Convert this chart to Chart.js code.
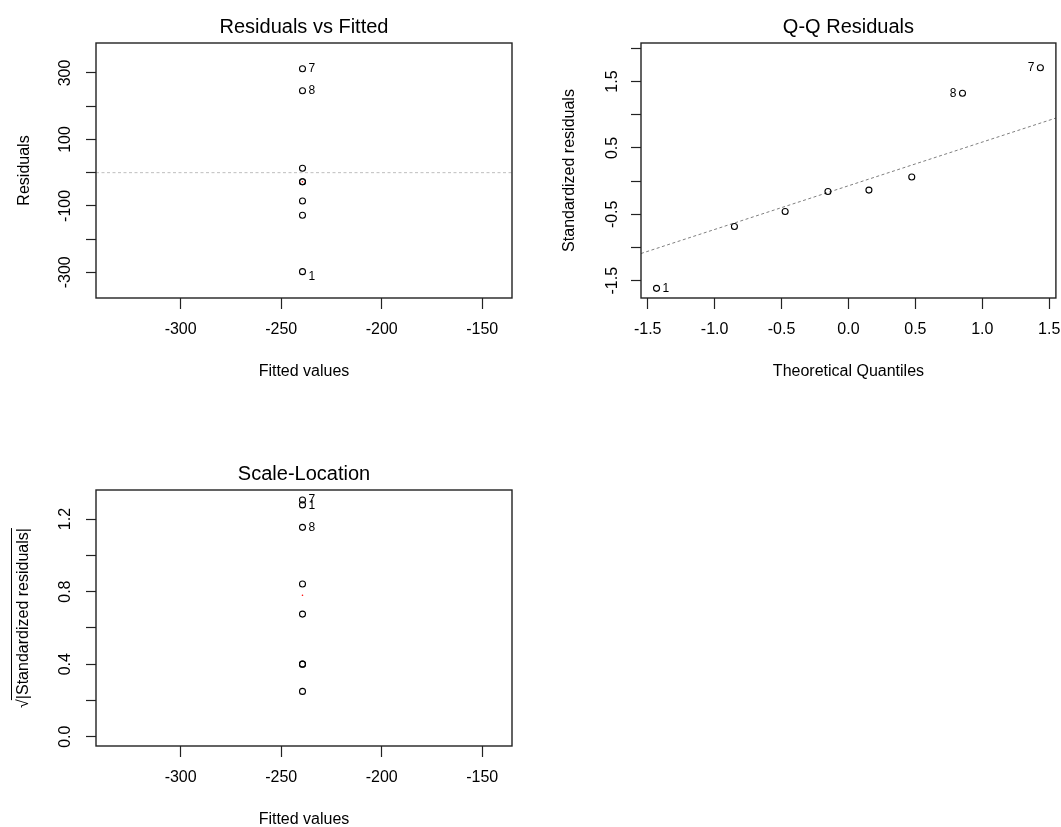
<!DOCTYPE html>
<html>
<head>
<meta charset="utf-8">
<title>lm diagnostics</title>
<script src="https://cdn.jsdelivr.net/npm/chart.js@4.4.1/dist/chart.umd.min.js"></script>
<style>
    html, body { margin: 0; padding: 0; background: #fff; }
    #page { position: relative; width: 1061px; height: 827px; overflow: hidden; }
    canvas { position: absolute; }
</style>
</head>
<body>
<div id="page">
    <canvas id="rvfChart" width="530" height="400" style="left:0;top:0"></canvas>
    <canvas id="qqChart" width="516" height="400" style="left:545px;top:0"></canvas>
    <canvas id="slChart" width="530" height="380" style="left:0;top:447px"></canvas>
</div>
<script>
// --- data (observation order 1..8) ---
const fittedValues = [-239.4, -239.4, -239.4, -239.4, -239.4, -239.4, -239.4, -239.4];
const residuals = [-298, -128.4, -85.3, -27.2, -27.2, 13.1, 313, 246.7];
const residualIds = ['1', '', '', '', '', '', '7', '8'];
const residualSmooth = [-27.2];

const fittedRange = [-342.1, -135.2];
const fittedTicks = [-300, -250, -200, -150];
const fittedTickLabels = ['-300', '-250', '-200', '-150'];

const residualRange = [-377.3, 390.3];
const residualTicks = [-300, -200, -100, 0, 100, 200, 300];
const residualTickLabels = ['-300', '', '-100', '', '100', '', '300'];

// Q-Q (sorted by theoretical quantile)
const theoreticalQuantiles = [-1.434, -0.852, -0.473, -0.153, 0.153, 0.473, 0.852, 1.434];
const stdResidualsSorted = [-1.615, -0.683, -0.457, -0.156, -0.135, 0.061, 1.324, 1.707];
const qqIds = ['1', '', '', '', '', '', '8', '7'];
const qqLineX = [-1.55, 1.55];
const qqLineY = [-1.09, 0.95];

const quantileRange = [-1.55, 1.55];
const quantileTicks = [-1.5, -1.0, -0.5, 0, 0.5, 1.0, 1.5];
const quantileTickLabels = ['-1.5', '-1.0', '-0.5', '0.0', '0.5', '1.0', '1.5'];
const stdResRange = [-1.76, 2.08];
const stdResTicks = [-1.5, -1.0, -0.5, 0, 0.5, 1.0, 1.5, 2.0];
const stdResTickLabels = ['-1.5', '', '-0.5', '', '0.5', '', '1.5', ''];

// Scale-Location
const sqrtAbsStdRes = [1.278, 0.842, 0.676, 0.40, 0.40, 0.25, 1.305, 1.154];
const sqrtIds = ['1', '', '', '', '', '', '7', '8'];
const sqrtSmooth = [0.78];
const sqrtRange = [-0.051, 1.36];
const sqrtTicks = [0, 0.2, 0.4, 0.6, 0.8, 1.0, 1.2];
const sqrtTickLabels = ['0.0', '', '0.4', '', '0.8', '', '1.2'];

// --- drawing helpers ---
const FONT = '"Liberation Sans", Arial, sans-serif';
const INK = '#000';
Chart.defaults.font.family = FONT;

const framePlugin = {
    id: 'frame',
    afterDatasetsDraw(chart) {
        const { ctx, chartArea: a } = chart;
        ctx.save();
        ctx.strokeStyle = '#222';
        ctx.lineWidth = 1.4;
        ctx.strokeRect(a.left, a.top, a.right - a.left, a.bottom - a.top);
        ctx.restore();
    }
};

function idLabelPlugin(ids, place) {
    return {
        id: 'idLabels',
        afterDatasetsDraw(chart) {
            const meta = chart.getDatasetMeta(0);
            const ctx = chart.ctx;
            ctx.save();
            ctx.font = '12px ' + FONT;
            ctx.fillStyle = INK;
            ctx.textBaseline = 'middle';
            ids.forEach((id, i) => {
                if (!id) return;
                const p = meta.data[i];
                const pl = place[id];
                ctx.textAlign = pl.dx < 0 ? 'right' : 'left';
                ctx.fillText(id, p.x + pl.dx, p.y + pl.dy);
            });
            ctx.restore();
        }
    };
}

// y label of the scale-location panel: sqrt sign with an overline
const sqrtTitlePlugin = {
    id: 'sqrtTitle',
    afterDraw(chart) {
        const { ctx, chartArea: a } = chart;
        ctx.save();
        ctx.translate(24, (a.top + a.bottom) / 2);
        ctx.rotate(-Math.PI / 2);
        ctx.font = '16px ' + FONT;
        ctx.fillStyle = INK;
        ctx.textBaseline = 'middle';
        ctx.textAlign = 'left';
        const root = '\u221A';
        const body = '|Standardized residuals|';
        const wr = ctx.measureText(root).width;
        const wb = ctx.measureText(body).width;
        const x0 = -(wr + wb) / 2;
        ctx.fillText(root, x0, 0);
        ctx.fillText(body, x0 + wr, 0);
        ctx.beginPath();
        ctx.moveTo(x0 + wr - 1, -12.5);
        ctx.lineTo(x0 + wr + wb, -12.5);
        ctx.lineWidth = 1;
        ctx.strokeStyle = INK;
        ctx.stroke();
        ctx.restore();
    }
};

function xAxis(range, ticks, labels, height, title, titlePad) {
    return {
        type: 'linear',
        position: 'bottom',
        min: range[0],
        max: range[1],
        afterBuildTicks: s => { s.ticks = ticks.map(v => ({ value: v })); },
        afterFit: s => { s.height = height; s.paddingLeft = 0; s.paddingRight = 0; },
        grid: { drawOnChartArea: false, drawTicks: true, tickLength: 11, tickColor: '#222', tickWidth: 1.2 },
        border: { display: false },
        ticks: {
            padding: 11, color: INK, font: { size: 16 },
            minRotation: 0, maxRotation: 0, autoSkip: false,
            callback: (v, i) => labels[i]
        },
        title: {
            display: true, text: title, color: INK,
            font: { size: 16, lineHeight: 1 },
            padding: { top: 0, bottom: titlePad }
        }
    };
}

function yAxis(range, ticks, labels, pad, title) {
    return {
        type: 'linear',
        position: 'left',
        min: range[0],
        max: range[1],
        afterBuildTicks: s => { s.ticks = ticks.map(v => ({ value: v })); },
        afterFit: s => { s.width = 96; s.paddingTop = 0; s.paddingBottom = 0; },
        grid: { drawOnChartArea: false, drawTicks: true, tickLength: 10, tickColor: '#222', tickWidth: 1.2 },
        border: { display: false },
        ticks: {
            padding: pad, color: INK, font: { size: 16 },
            minRotation: 90, maxRotation: 90, crossAlign: 'center', autoSkip: false,
            callback: (v, i) => labels[i]
        },
        title: title ? {
            display: true, text: title, color: INK,
            font: { size: 16, lineHeight: 1 },
            padding: { top: 16.5, bottom: 0 }
        } : { display: false }
    };
}

function baseOptions(title, padRight, scales) {
    return {
        responsive: false,
        animation: false,
        devicePixelRatio: 1,
        layout: { padding: { top: 0, right: padRight, bottom: 0, left: 0 } },
        plugins: {
            legend: { display: false },
            tooltip: { enabled: false },
            title: {
                display: true, text: title, fullSize: false, color: INK,
                font: { size: 20, weight: 'normal', lineHeight: 1.2 },
                padding: { top: 15, bottom: 4 }
            }
        },
        scales: scales
    };
}

function pointSet(xs, ys) {
    return {
        data: xs.map((x, i) => ({ x: x, y: ys[i] })),
        pointRadius: 3,
        pointBorderWidth: 1.1,
        pointBorderColor: INK,
        pointBackgroundColor: 'rgba(0,0,0,0)'
    };
}

function smoothSet(x, ys) {
    return {
        data: ys.map(y => ({ x: x, y: y })),
        pointRadius: 0.8,
        pointBorderWidth: 0,
        pointBackgroundColor: '#ff0000'
    };
}

// --- Residuals vs Fitted ---
new Chart(document.getElementById('rvfChart').getContext('2d'), {
    type: 'scatter',
    data: {
        datasets: [
            pointSet(fittedValues, residuals),
            smoothSet(fittedValues[0], residualSmooth),
            {
                data: fittedRange.map(x => ({ x: x, y: 0 })),
                showLine: true,
                borderColor: '#bebebe',
                borderWidth: 1,
                borderDash: [3, 2.5],
                pointRadius: 0
            }
        ]
    },
    options: baseOptions('Residuals vs Fitted', 18, {
        x: xAxis(fittedRange, fittedTicks, fittedTickLabels, 102, 'Fitted values', 20.3),
        y: yAxis(residualRange, residualTicks, residualTickLabels, 4, 'Residuals')
    }),
    plugins: [framePlugin, idLabelPlugin(residualIds, {
        '1': { dx: 6, dy: 5 },
        '7': { dx: 6, dy: 0 },
        '8': { dx: 6, dy: 0 }
    })]
});

// --- Q-Q Residuals ---
new Chart(document.getElementById('qqChart').getContext('2d'), {
    type: 'scatter',
    data: {
        datasets: [
            pointSet(theoreticalQuantiles, stdResidualsSorted),
            {
                data: qqLineX.map((x, i) => ({ x: x, y: qqLineY[i] })),
                showLine: true,
                borderColor: '#7f7f7f',
                borderWidth: 1,
                borderDash: [3, 2.5],
                pointRadius: 0
            }
        ]
    },
    options: baseOptions('Q-Q Residuals', 5, {
        x: xAxis(quantileRange, quantileTicks, quantileTickLabels, 102, 'Theoretical Quantiles', 20.3),
        y: yAxis(stdResRange, stdResTicks, stdResTickLabels, 5, 'Standardized residuals')
    }),
    plugins: [framePlugin, idLabelPlugin(qqIds, {
        '1': { dx: 6, dy: 0 },
        '7': { dx: -6, dy: 0 },
        '8': { dx: -6, dy: 0 }
    })]
});

// --- Scale-Location ---
new Chart(document.getElementById('slChart').getContext('2d'), {
    type: 'scatter',
    data: {
        datasets: [
            pointSet(fittedValues, sqrtAbsStdRes),
            smoothSet(fittedValues[0], sqrtSmooth)
        ]
    },
    options: baseOptions('Scale-Location', 18, {
        x: xAxis(fittedRange, fittedTicks, fittedTickLabels, 81, 'Fitted values', -1),
        y: yAxis(sqrtRange, sqrtTicks, sqrtTickLabels, 9, null)
    }),
    plugins: [framePlugin, sqrtTitlePlugin, idLabelPlugin(sqrtIds, {
        '1': { dx: 6, dy: 1 },
        '7': { dx: 6, dy: 0 },
        '8': { dx: 6, dy: 0 }
    })]
});
</script>
</body>
</html>
